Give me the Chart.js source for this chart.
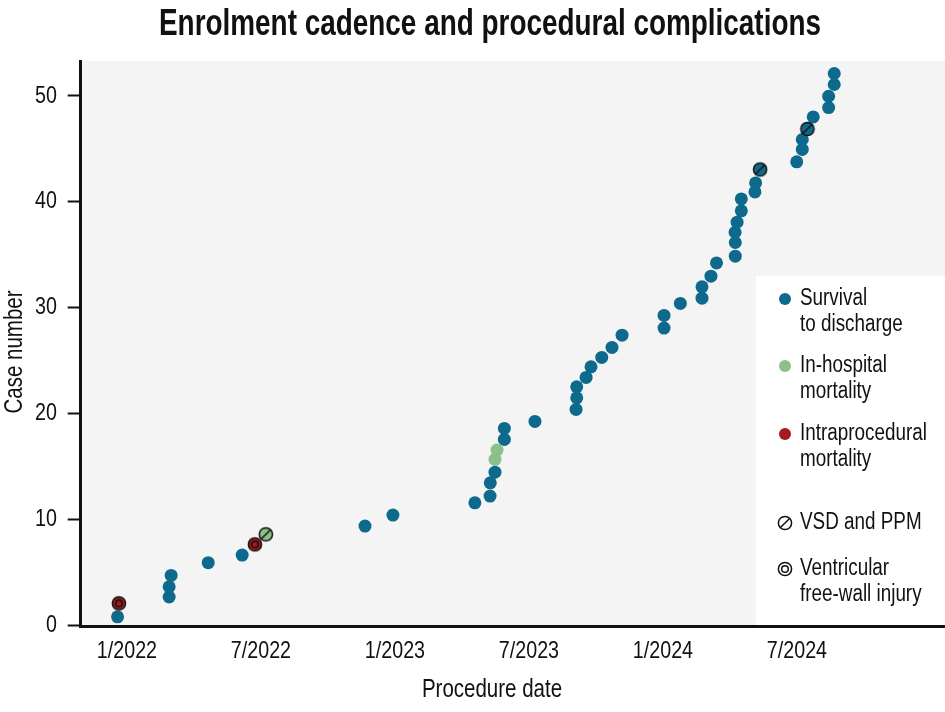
<!DOCTYPE html>
<html>
<head>
<meta charset="utf-8">
<script src="https://cdn.jsdelivr.net/npm/chart.js@4.4.0/dist/chart.umd.min.js"></script>
<style>
  html, body { margin: 0; padding: 0; background: #fff; }
  #wrap { width: 945px; height: 712px; }
</style>
</head>
<body>
<div id="wrap"><canvas id="chart" width="945" height="712"></canvas></div>
<script>
// x = months since January 2022, y = case number
const survivalMonths = [-0.42, 1.89, 1.89, 1.98, 3.64, 5.16, 10.66, 11.91, 15.58, 16.26, 16.27, 16.48,
  16.90, 16.90, 18.27, 20.11, 20.14, 20.14, 20.56, 20.78, 21.26, 21.72, 22.17, 24.05, 24.05, 24.78,
  25.75, 25.75, 26.15, 26.40, 27.24, 27.24, 27.23, 27.32, 27.51, 27.51, 28.12, 28.15, 28.35, 29.99,
  30.24, 30.24, 30.47, 30.73, 31.42, 31.42, 31.67, 31.67];
const survivalCases = [0.78, 2.65, 3.62, 4.69, 5.89, 6.61, 9.35, 10.39, 11.55, 12.19, 13.44, 14.45,
  17.54, 18.58, 19.24, 20.38, 21.47, 22.51, 23.40, 24.40, 25.29, 26.23, 27.39, 28.06, 29.26, 30.39,
  30.89, 31.96, 32.97, 34.22, 34.86, 36.15, 37.12, 38.07, 39.14, 40.27, 40.93, 41.78, 43.05, 43.77,
  44.94, 45.88, 46.88, 48.02, 48.90, 49.97, 51.08, 52.12];

const inHospitalMonths = [6.22, 16.48, 16.57];
const inHospitalCases = [8.57, 15.65, 16.53];

const intraMonths = [-0.36, 5.73];
const intraCases = [2.05, 7.62];

const vsdMonths = [6.22, 28.35, 30.47];
const vsdCases = [8.57, 43.05, 46.88];

const freeWallMonths = [-0.36, 5.73];
const freeWallCases = [2.05, 7.62];

const xTickValues = [0, 6, 12, 18, 24, 30];
const xTickLabels = ['1/2022', '7/2022', '1/2023', '7/2023', '1/2024', '7/2024'];
const yTickValues = [0, 10, 20, 30, 40, 50];

const FONT = "'Liberation Sans', Arial, sans-serif";
const BLUE = '#0e6a8c';
const GREEN = '#8cc08a';
const RED = '#a31b1e';
const INK = '#111';

function pts(xs, ys) { return xs.map((x, i) => ({ x: x, y: ys[i] })); }

// condensed text: regular face squeezed horizontally
function drawText(ctx, text, x, y, o) {
  ctx.save();
  ctx.font = o.font;
  ctx.fillStyle = INK;
  ctx.textAlign = o.align || 'center';
  ctx.textBaseline = o.baseline || 'middle';
  ctx.translate(x, y);
  if (o.rotate) ctx.rotate(o.rotate);
  ctx.scale(o.sx || 0.82, 1);
  ctx.fillText(text, 0, 0);
  ctx.restore();
}

function makeMarker(kind) {
  const c = document.createElement('canvas');
  c.width = 18; c.height = 18;
  const g = c.getContext('2d');
  g.strokeStyle = INK;
  g.lineWidth = 1.5;
  g.beginPath();
  g.arc(9, 9, 6.6, 0, Math.PI * 2);
  g.stroke();
  if (kind === 'vsd') {
    g.beginPath();
    g.moveTo(4.2, 13.8);
    g.lineTo(13.8, 4.2);
    g.stroke();
  } else {
    g.beginPath();
    g.arc(9, 9, 3.3, 0, Math.PI * 2);
    g.stroke();
  }
  return c;
}
const vsdMarker = makeMarker('vsd');
const ringMarker = makeMarker('ring');

const legendItems = [
  { lines: ['Survival', 'to discharge'], color: BLUE, y: 299 },
  { lines: ['In-hospital', 'mortality'], color: GREEN, y: 366 },
  { lines: ['Intraprocedural', 'mortality'], color: RED, y: 434 },
  { lines: ['VSD and PPM'], img: vsdMarker, y: 523 },
  { lines: ['Ventricular', 'free-wall injury'], img: ringMarker, y: 569 }
];

const decor = {
  id: 'decor',
  beforeDraw(chart) {
    const { ctx, chartArea: a } = chart;
    ctx.save();
    ctx.fillStyle = '#f4f4f4';
    ctx.fillRect(a.left, a.top, a.right - a.left, a.bottom - a.top);
    ctx.fillStyle = '#ffffff';
    ctx.fillRect(756, 276, a.right - 756, a.bottom - 276);
    ctx.restore();
  },
  afterDraw(chart) {
    const { ctx } = chart;
    const xs = chart.scales.x, ys = chart.scales.y;

    drawText(ctx, 'Enrolment cadence and procedural complications', 490, 35,
      { font: 'bold 36px ' + FONT, baseline: 'alphabetic', sx: 0.775 });
    drawText(ctx, 'Procedure date', 492, 690, { font: '25px ' + FONT });
    drawText(ctx, 'Case number', 15, 352, { font: '25px ' + FONT, rotate: -Math.PI / 2 });

    xTickValues.forEach((v, i) =>
      drawText(ctx, xTickLabels[i], xs.getPixelForValue(v), 651, { font: '24px ' + FONT }));
    yTickValues.forEach(v =>
      drawText(ctx, String(v), 57, ys.getPixelForValue(v), { font: '24px ' + FONT, align: 'right' }));

    legendItems.forEach(item => {
      if (item.img) {
        ctx.drawImage(item.img, 785 - 9, item.y - 9);
      } else {
        ctx.save();
        ctx.fillStyle = item.color;
        ctx.beginPath();
        ctx.arc(785, item.y, 6, 0, Math.PI * 2);
        ctx.fill();
        ctx.restore();
      }
      item.lines.forEach((t, i) =>
        drawText(ctx, t, 800, item.y + i * 26, { font: '23px ' + FONT, align: 'left' }));
    });
  }
};

Chart.defaults.font.family = FONT;
Chart.defaults.font.size = 24;
Chart.defaults.color = INK;

new Chart(document.getElementById('chart'), {
  type: 'scatter',
  data: {
    datasets: [
      { label: 'VSD and PPM', data: pts(vsdMonths, vsdCases), pointStyle: vsdMarker, order: 0 },
      { label: 'Ventricular free-wall injury', data: pts(freeWallMonths, freeWallCases), pointStyle: ringMarker, order: 0 },
      { label: 'Intraprocedural mortality', data: pts(intraMonths, intraCases), backgroundColor: RED, order: 1 },
      { label: 'In-hospital mortality', data: pts(inHospitalMonths, inHospitalCases), backgroundColor: GREEN, order: 2 },
      { label: 'Survival to discharge', data: pts(survivalMonths, survivalCases), backgroundColor: BLUE, order: 3 }
    ]
  },
  options: {
    responsive: false,
    animation: false,
    layout: { autoPadding: false, padding: { top: 61, right: 0, bottom: 0, left: 0 } },
    elements: { point: { radius: 6.5, hoverRadius: 6.5, borderWidth: 0 } },
    plugins: {
      legend: { display: false },
      tooltip: { enabled: false },
      title: { display: false }
    },
    scales: {
      x: {
        type: 'linear',
        min: -2.07,
        max: 36.63,
        afterFit: s => { s.height = 86; },
        afterBuildTicks: s => { s.ticks = xTickValues.map(v => ({ value: v })); },
        ticks: {
          color: 'rgba(0,0,0,0)',
          padding: 10,
          maxRotation: 0,
          callback: v => xTickLabels[xTickValues.indexOf(v)]
        },
        grid: { display: false },
        border: { display: true, color: INK, width: 3 }
      },
      y: {
        type: 'linear',
        min: -0.09,
        max: 53.3,
        afterFit: s => { s.width = 80.7; },
        afterBuildTicks: s => { s.ticks = yTickValues.map(v => ({ value: v })); },
        ticks: { color: 'rgba(0,0,0,0)', padding: 10.5 },
        grid: {
          drawOnChartArea: false,
          drawTicks: true,
          tickLength: 13,
          tickWidth: 2,
          tickColor: INK
        },
        border: { display: true, color: INK, width: 3 }
      }
    }
  },
  plugins: [decor]
});
</script>
</body>
</html>
